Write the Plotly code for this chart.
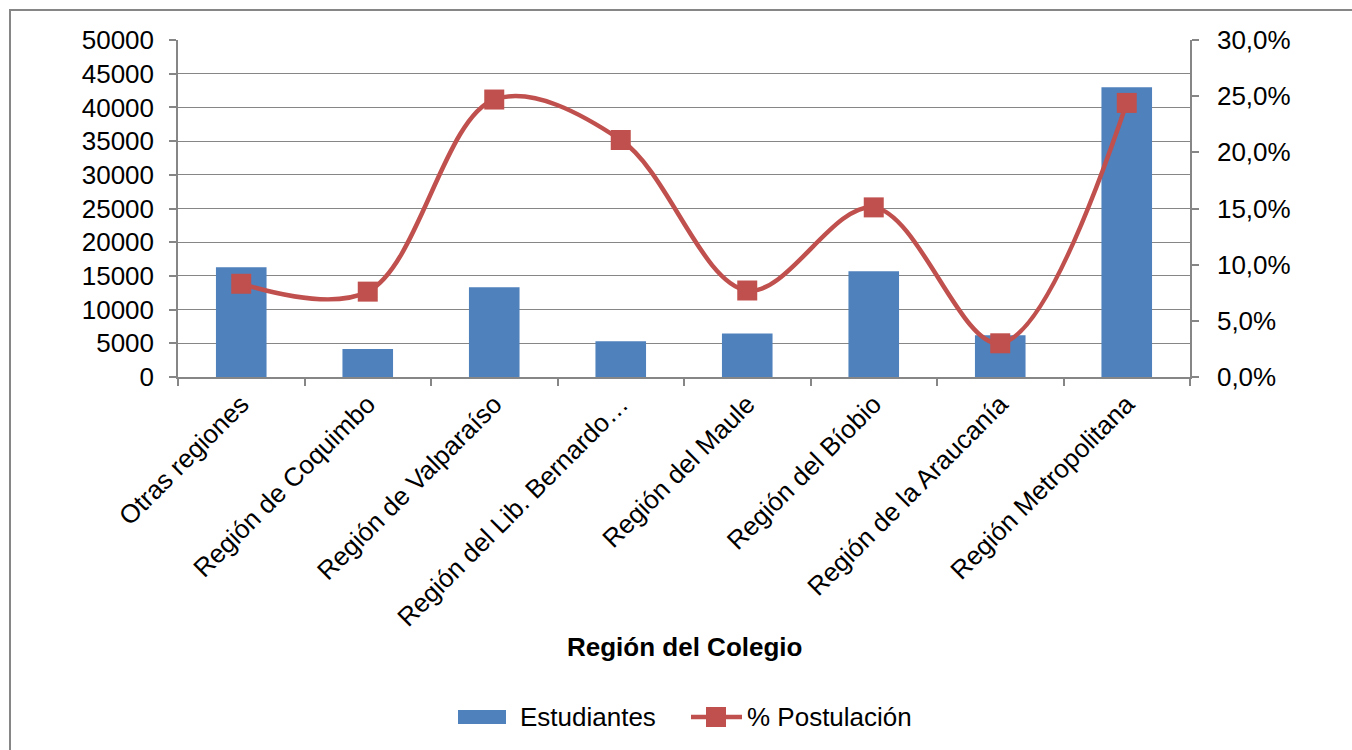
import plotly.graph_objects as go

# Datos por región
regiones = [
    "Otras regiones",
    "Región de Coquimbo",
    "Región de Valparaíso",
    "Región del Lib. Bernardo…",
    "Región del Maule",
    "Región del Bíobio",
    "Región de la Araucanía",
    "Región Metropolitana",
]
estudiantes = [16300, 4150, 13300, 5300, 6450, 15700, 6200, 43000]
postulacion = [0.083, 0.076, 0.247, 0.211, 0.077, 0.151, 0.030, 0.244]

FONT = "Liberation Sans, Arial, sans-serif"
GRID = "#868686"
BAR = "#4F81BD"
LINE = "#C0504D"

# Área de trazado en píxeles (para ubicar leyenda y marco)
W, H = 1352, 750
L, R, T, B = 178, 162, 40, 373
PW, PH = W - L - R, H - T - B


def px(x):
    return (x - L) / PW


def py(y):
    return (H - B - y) / PH


fig = go.Figure()

fig.add_trace(go.Bar(
    x=regiones, y=estudiantes, name="Estudiantes",
    marker=dict(color=BAR, line=dict(width=0)),
    width=0.4, yaxis="y",
))

fig.add_trace(go.Scatter(
    x=regiones, y=postulacion, name="% Postulación",
    mode="lines+markers",
    line=dict(color=LINE, width=4.5, shape="spline", smoothing=1.0),
    marker=dict(symbol="square", size=20, color=LINE),
    yaxis="y2",
))

fig.update_layout(
    width=W, height=H,
    margin=dict(l=L, r=R, t=T, b=B),
    paper_bgcolor="white", plot_bgcolor="white",
    font=dict(family=FONT, size=26, color="black"),
    separators=",.",
    showlegend=False,
    xaxis=dict(
        type="category", tickangle=-45, tickson="boundaries",
        ticks="outside", ticklen=7, tickcolor=GRID, tickwidth=1.5,
        showline=True, linecolor=GRID, linewidth=1.5,
        showgrid=False, tickfont=dict(size=26),
        range=[-0.5, 7.5],
    ),
    yaxis=dict(
        range=[0, 50000], dtick=5000, tickformat="d",
        showgrid=True, gridcolor=GRID, gridwidth=1.4,
        showline=True, linecolor=GRID, linewidth=1.5,
        ticks="outside", ticklen=7, tickcolor=GRID, tickwidth=1.5,
        ticklabelstandoff=10, zeroline=False, tickfont=dict(size=26),
    ),
    yaxis2=dict(
        range=[0, 0.30], dtick=0.05, tickformat=".1%",
        overlaying="y", side="right", showgrid=False,
        showline=True, linecolor=GRID, linewidth=1.5,
        ticks="outside", ticklen=7, tickcolor=GRID, tickwidth=1.5,
        ticklabelstandoff=13, zeroline=False, tickfont=dict(size=26),
    ),
)

# Título del eje de categorías
fig.add_annotation(
    text="<b>Región del Colegio</b>", xref="paper", yref="paper",
    x=0.5, y=py(647), xanchor="center", yanchor="middle",
    showarrow=False, font=dict(size=26, family=FONT),
)

# Leyenda dibujada a mano (símbolos anchos)
ly = 717
fig.add_shape(type="rect", xref="paper", yref="paper",
              x0=px(458), x1=px(506), y0=py(ly + 7), y1=py(ly - 7),
              fillcolor=BAR, line=dict(width=0))
fig.add_annotation(text="Estudiantes", xref="paper", yref="paper",
                   x=px(518), y=py(ly), xanchor="left", yanchor="middle",
                   showarrow=False, font=dict(size=26, family=FONT))
fig.add_shape(type="line", xref="paper", yref="paper",
              x0=px(691), x1=px(742), y0=py(ly), y1=py(ly),
              line=dict(color=LINE, width=4.5))
fig.add_shape(type="rect", xref="paper", yref="paper",
              x0=px(706), x1=px(726), y0=py(ly + 10), y1=py(ly - 10),
              fillcolor=LINE, line=dict(width=0))
fig.add_annotation(text="% Postulación", xref="paper", yref="paper",
                   x=px(745), y=py(ly), xanchor="left", yanchor="middle",
                   showarrow=False, font=dict(size=26, family=FONT))

# Marco exterior del gráfico
fig.add_shape(
    type="rect", xref="paper", yref="paper",
    x0=px(10), x1=px(1500), y0=py(900), y1=py(10),
    line=dict(color=GRID, width=2), fillcolor="rgba(0,0,0,0)", layer="below",
)

fig.write_html("out.html")
